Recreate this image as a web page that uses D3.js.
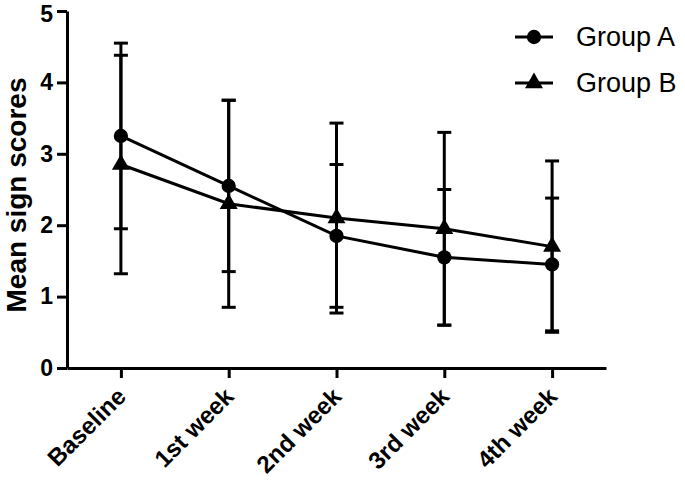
<!DOCTYPE html>
<html>
<head>
<meta charset="utf-8">
<script src="https://cdn.jsdelivr.net/npm/d3@7"></script>
<style>
  html,body{margin:0;padding:0;background:#fff}
  svg{display:block}
  text{font-family:"Liberation Sans",Arial,Helvetica,sans-serif;fill:#000}
</style>
</head>
<body>
<svg id="chart" width="685" height="491"></svg>
<script>
const categories = ['Baseline', '1st week', '2nd week', '3rd week', '4th week'];
const groupAMean = [3.25, 2.55, 1.85, 1.55, 1.45];
const groupASD   = [1.30, 1.20, 1.00, 0.95, 0.93];
const groupBMean = [2.85, 2.30, 2.10, 1.95, 1.70];
const groupBSD   = [1.53, 1.45, 1.33, 1.35, 1.20];
const yTicks = [0, 1, 2, 3, 4, 5];

const series = [
  { name: 'Group A', mean: groupAMean, sd: groupASD, shape: d3.symbolCircle },
  { name: 'Group B', mean: groupBMean, sd: groupBSD, shape: d3.symbolTriangle },
];

const svg = d3.select('#chart');
const margin = { top: 11, right: 79, bottom: 123, left: 67 };
const width = 685 - margin.left - margin.right;
const height = 491 - margin.top - margin.bottom;
const g = svg.append('g').attr('transform', `translate(${margin.left},${margin.top})`);

const x = d3.scalePoint().domain(categories).range([0, width]).padding(0.5);
const y = d3.scaleLinear().domain([0, 5]).range([height, 0]);

// axes
const xAxis = g.append('g').attr('transform', `translate(0,${height})`)
  .call(d3.axisBottom(x).tickSize(10).tickSizeOuter(0));
xAxis.selectAll('text')
  .attr('text-anchor', 'end')
  .attr('x', 0).attr('y', 0).attr('dx', 0).attr('dy', 0)
  .attr('transform', 'translate(6,30) rotate(-45)')
  .style('font-size', '24px').style('font-weight', 'bold');

const yAxis = g.append('g')
  .call(d3.axisLeft(y).tickValues(yTicks).tickFormat(d3.format('d')).tickSize(10).tickSizeOuter(0));
yAxis.selectAll('text').attr('x', -14)
  .style('font-size', '23px').style('font-weight', 'bold');
// keep the top label inside the page
yAxis.selectAll('text').filter(d => d === 5).attr('dy', '0.46em');

g.selectAll('.domain, .tick line').attr('stroke', '#000').attr('stroke-width', 3);

g.append('text')
  .attr('transform', 'rotate(-90)')
  .attr('x', -184).attr('y', -41)
  .attr('text-anchor', 'middle')
  .style('font-size', '28px').style('font-weight', 'bold')
  .text('Mean sign scores');

// error bars
const capW = 7;
series.forEach(s => {
  const eb = g.append('g').attr('stroke', '#000').attr('stroke-width', 3);
  categories.forEach((c, i) => {
    const cx = x(c);
    const lo = y(s.mean[i] - s.sd[i]), hi = y(s.mean[i] + s.sd[i]);
    eb.append('line').attr('x1', cx).attr('x2', cx).attr('y1', lo).attr('y2', hi);
    eb.append('line').attr('x1', cx - capW).attr('x2', cx + capW).attr('y1', lo).attr('y2', lo);
    eb.append('line').attr('x1', cx - capW).attr('x2', cx + capW).attr('y1', hi).attr('y2', hi);
  });
});

// lines and markers
const line = d3.line().x((d, i) => x(categories[i])).y(d => y(d));
series.forEach(s => {
  g.append('path').datum(s.mean)
    .attr('fill', 'none').attr('stroke', '#000').attr('stroke-width', 3)
    .attr('d', line);
  g.selectAll(null).data(s.mean).enter().append('path')
    .attr('transform', (d, i) => `translate(${x(categories[i])},${y(d)})`)
    .attr('d', d3.symbol().type(s.shape).size(s.shape === d3.symbolCircle ? 160 : 140))
    .attr('fill', '#000');
});

// legend
const legend = svg.append('g').attr('transform', 'translate(515,37)');
series.forEach((s, i) => {
  const row = legend.append('g').attr('transform', `translate(0,${i * 46})`);
  row.append('line').attr('x1', 0).attr('x2', 38).attr('stroke', '#000').attr('stroke-width', 3);
  row.append('path').attr('transform', 'translate(19,0)')
    .attr('d', d3.symbol().type(s.shape).size(s.shape === d3.symbolCircle ? 160 : 140))
    .attr('fill', '#000');
  row.append('text').attr('x', 61).attr('y', 0).attr('dy', '0.35em')
    .style('font-size', '27px').text(s.name);
});
</script>
</body>
</html>
